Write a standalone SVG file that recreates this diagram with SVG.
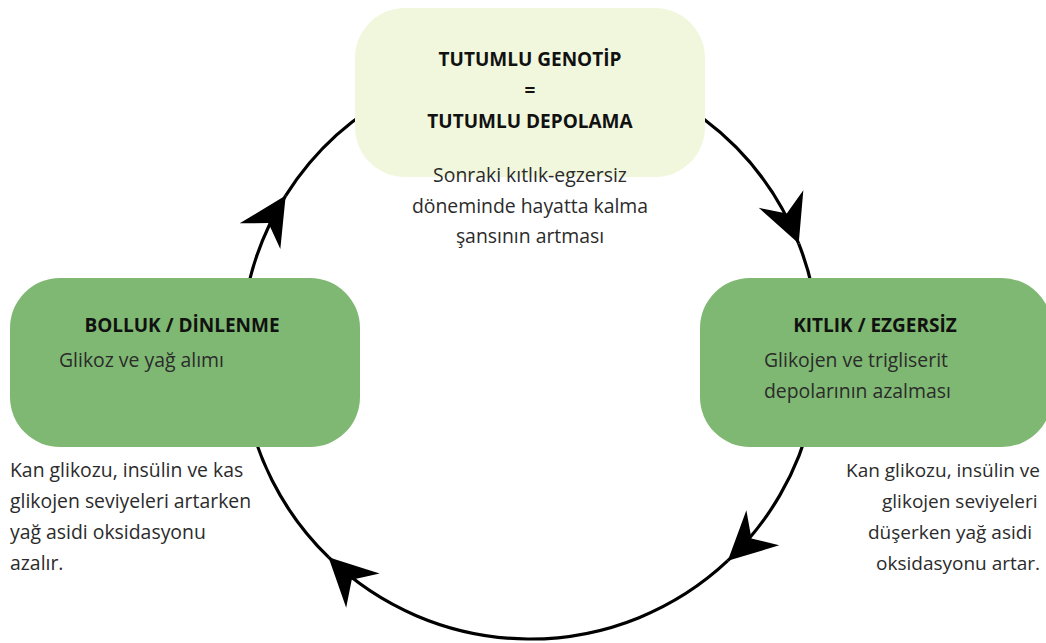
<svg xmlns="http://www.w3.org/2000/svg" width="1046" height="643" viewBox="0 0 1046 643">
<style>
text{font-family:"Open Sans",Lato,"Liberation Sans",sans-serif;fill:#2b2b2b;font-size:19.4px}
.b{font-weight:bold;fill:#111;font-size:19px}
.c{text-anchor:middle}
.arc{fill:none;stroke:#000;stroke-width:3.2}
.green{fill:#7fb872}
.rc{font-size:19px}
</style>
<defs>
<marker id="ah" markerUnits="userSpaceOnUse" markerWidth="60" markerHeight="60" viewBox="-45 -25 50 50" refX="0" refY="0" orient="auto">
<path d="M0,0 L-40,-20 L-27,0 L-40,20 Z" fill="#000"/>
</marker>
</defs>
<g id="connectors">
<path class="arc" marker-end="url(#ah)" d="M285.7,195.6 A289,289 0 0 1 798.7,243.6"/>
<path class="arc" marker-end="url(#ah)" d="M798.7,243.6 A289,289 0 0 1 727.8,560.7"/>
<path class="arc" marker-end="url(#ah)" d="M727.8,560.7 A289,289 0 0 1 328.5,557.2"/>
<path class="arc" marker-end="url(#ah)" d="M328.5,557.2 A289,289 0 0 1 285.7,195.6"/>
</g>
<g id="top">
<rect x="355" y="8" width="350" height="169" rx="50" fill="#f0f7dc"/>
<text class="b c" x="530" y="66">TUTUMLU GENOTİP</text>
<text class="b c" x="530" y="97">=</text>
<text class="b c" x="530" y="128">TUTUMLU DEPOLAMA</text>
<text class="c" x="530" y="182">Sonraki kıtlık-egzersiz</text>
<text class="c" x="530" y="213">döneminde hayatta kalma</text>
<text class="c" x="530" y="243">şansının artması</text>
</g>
<g id="left">
<rect class="green" x="10" y="278" width="350" height="169" rx="50"/>
<text class="b c" x="182" y="332">BOLLUK / DİNLENME</text>
<text x="59" y="367">Glikoz ve yağ alımı</text>
</g>
<g id="left-caption">
<text x="10" y="477">Kan glikozu, insülin ve kas</text>
<text x="10" y="508">glikojen seviyeleri artarken</text>
<text x="10" y="539">yağ asidi oksidasyonu</text>
<text x="10" y="570">azalır.</text>
</g>
<g id="right">
<rect class="green" x="700" y="278" width="352" height="169" rx="50"/>
<text class="b c" x="875" y="332">KITLIK / EZGERSİZ</text>
<text x="764" y="367">Glikojen ve trigliserit</text>
<text x="764" y="398">depolarının azalması</text>
</g>
<g id="right-caption">
<text class="rc" x="846" y="477">Kan glikozu, insülin ve</text>
<text class="rc" x="882" y="508">glikojen seviyeleri</text>
<text class="rc" x="868" y="539">düşerken yağ asidi</text>
<text class="rc" x="876" y="570">oksidasyonu artar.</text>
</g>
</svg>
